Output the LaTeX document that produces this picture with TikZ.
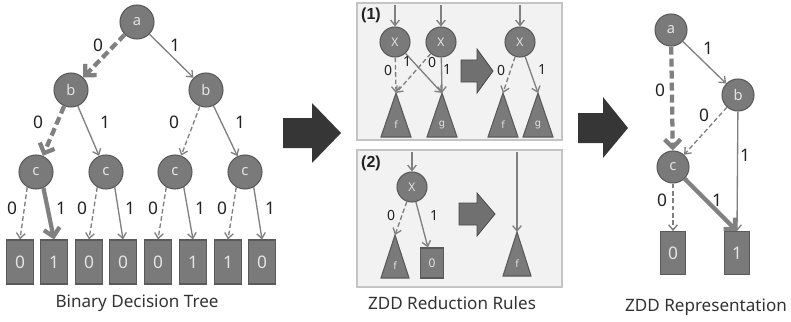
\documentclass[tikz,border=0pt]{standalone}
\usepackage{fontspec}
\setmainfont{Noto Sans}
\newfontfamily\rulefont{Liberation Sans}
\usetikzlibrary{arrows.meta,shadows}

\definecolor{nodefill}{HTML}{7A7A7A}
\definecolor{nodeline}{HTML}{5A5A5A}
\definecolor{nodetext}{HTML}{E4E4E4}
\definecolor{edgegray}{HTML}{808080}
\definecolor{labelink}{HTML}{222222}
\definecolor{captionink}{HTML}{333333}
\definecolor{paneltint}{HTML}{F2F2F2}
\definecolor{panelline}{HTML}{C4C4C4}
\definecolor{bigdark}{HTML}{363636}
\definecolor{midgray}{HTML}{707070}
\definecolor{midline}{HTML}{4A4A4A}

\tikzset{
  vert/.style={circle, draw=nodeline, fill=nodefill, line width=0.8pt, minimum size=25.5pt, inner sep=0pt, text=nodetext, font=\fontsize{11}{11}\selectfont},
  zvert/.style={vert, minimum size=24pt},
  xvert/.style={vert, minimum size=22.5pt, font=\fontsize{9}{9}\selectfont},
  leaf/.style={rectangle, draw=nodeline, fill=nodefill, line width=0.8pt, minimum width=20pt, minimum height=33pt, inner sep=0pt, text=nodetext, font=\fontsize{13}{13}\selectfont},
  zleaf/.style={leaf, minimum width=19pt, minimum height=32pt},
  sleaf/.style={leaf, minimum width=17pt, minimum height=22.5pt, font=\fontsize{9}{9}\selectfont},
  subtree/.style={fill=nodefill, draw=nodeline, line width=0.8pt},
  subtext/.style={text=nodetext, font=\fontsize{7.5}{7.5}\selectfont, inner sep=0pt},
  lo/.style={draw=edgegray, line width=1pt, dash pattern=on 3.5pt off 2pt, -{Straight Barb[length=4pt,width=6.5pt]}},
  hi/.style={draw=edgegray, line width=1pt, -{Straight Barb[length=4pt,width=6.5pt]}},
  lobold/.style={draw=edgegray, line width=3.2pt, dash pattern=on 6pt off 3pt, -{Straight Barb[length=6pt,width=12pt]}},
  hibold/.style={draw=edgegray, line width=3.2pt, -{Straight Barb[length=6pt,width=12pt]}},
  elabel/.style={text=labelink, font=\fontsize{13}{13}\selectfont, inner sep=0pt},
  plabel/.style={elabel, font=\fontsize{10.5}{10.5}\selectfont},
  rulelabel/.style={text=labelink, font=\rulefont\bfseries\fontsize{12}{12}\selectfont, inner sep=0pt},
  caption/.style={text=captionink, font=\fontsize{12.8}{12.8}\selectfont, inner sep=0pt},
  panel/.style={fill=paneltint, draw=panelline, line width=0.8pt, drop shadow={shadow xshift=0.8pt, shadow yshift=-0.8pt, fill=black, opacity=0.25}},
  bigarrow/.style={fill=bigdark},
  midarrow/.style={fill=midgray, draw=midline, line width=0.6pt}
}

\begin{document}
\begin{tikzpicture}[x=0.75pt, y=-0.75pt]
        \useasboundingbox (0,0) rectangle (791,321);

        % Binary decision tree (left)
        \node[vert] (a) at (137,22) {a};
        \node[vert] (bL) at (71,90) {b};
        \node[vert] (bR) at (206,90) {b};
        \node[vert] (c1) at (36,172) {c};
        \node[vert] (c2) at (106,172) {c};
        \node[vert] (c3) at (175,172) {c};
        \node[vert] (c4) at (245,172) {c};
        \node[leaf] (l1) at (20,262) {0};
        \node[leaf] (l2) at (54,262) {1};
        \node[leaf] (l3) at (89,262) {0};
        \node[leaf] (l4) at (123,262) {0};
        \node[leaf] (l5) at (158,262) {0};
        \node[leaf] (l6) at (193,262) {1};
        \node[leaf] (l7) at (228,262) {1};
        \node[leaf] (l8) at (262,262) {0};

        % Archi dell'albero
        \draw[lobold] (a) -- (bL);
        \draw[hi] (a) -- (bR);
        \draw[lobold] (bL) -- (c1);
        \draw[hi] (bL) -- (c2);
        \draw[lo] (bR) -- (c3);
        \draw[hi] (bR) -- (c4);
        \draw[lo] (c1.240) -- (l1.north);
        \draw[hibold] (c1.295) -- (l2.north);
        \draw[lo] (c2.240) -- (l3.north);
        \draw[hi] (c2.300) -- (l4.north);
        \draw[lo] (c3.240) -- (l5.north);
        \draw[hi] (c3.300) -- (l6.north);
        \draw[lo] (c4.240) -- (l7.north);
        \draw[hi] (c4.300) -- (l8.north);

        % Etichette 0/1
        \node[elabel] (ea0) at (98,45) {0};
        \node[elabel] (ea1) at (175,45) {1};
        \node[elabel] (eb0) at (38,122) {0};
        \node[elabel] (eb1) at (105,122) {1};
        \node[elabel] (ec0) at (174,122) {0};
        \node[elabel] (ec1) at (240,122) {1};
        \node[elabel] (ed0) at (12,208) {0};
        \node[elabel] (ed1) at (61,208) {1};
        \node[elabel] (ee0) at (82,208) {0};
        \node[elabel] (ee1) at (130,208) {1};
        \node[elabel] (ef0) at (153,208) {0};
        \node[elabel] (ef1) at (200,208) {1};
        \node[elabel] (eg0) at (222,208) {0};
        \node[elabel] (eg1) at (270,208) {1};

        \node[caption] (captree) at (137,303) {Binary Decision Tree};

        % Freccia verso regole
        \fill[bigarrow] (283,118) -- (312,118) -- (312,103) -- (341,133) -- (312,163) -- (312,148) -- (283,148) -- cycle;

        % Regola (1)
        \draw[panel] (357,3) rectangle (562,140);
        \node[rulelabel] (rule1) at (371,15) {(1)};
        \node[xvert] (x1) at (395,42) {X};
        \node[xvert] (x2) at (441,42) {X};
        \coordinate (in1) at (395,5);
        \coordinate (in2) at (441,5);
        \coordinate (fA) at (396,93);
        \coordinate (gA) at (442,93);
        \filldraw[subtree] (fA) -- ++(15,44) -- ++(-30,0) -- cycle;
        \filldraw[subtree] (gA) -- ++(15,44) -- ++(-30,0) -- cycle;
        \node[subtext] (fAt) at (396,125) {f};
        \node[subtext] (gAt) at (442,125) {g};
        \draw[hi] (in1) -- (x1);
        \draw[hi] (in2) -- (x2);
        \draw[lo] (x1) -- (fA);
        \draw[hi] (x1) -- (gA);
        \draw[lo] (x2) -- (fA);
        \draw[hi] (x2) -- (gA);
        \node[plabel] (p10) at (388,70) {0};
        \node[plabel] (p11) at (407,62) {1};
        \node[plabel] (p20) at (432,62) {0};
        \node[plabel] (p21) at (447,70) {1};

        \filldraw[midarrow] (461,60) -- (477,60) -- (477,49) -- (493,71) -- (477,93) -- (477,82) -- (461,82) -- cycle;

        \node[xvert] (x3) at (520,42) {X};
        \coordinate (in3) at (520,5);
        \coordinate (fB) at (503,93);
        \coordinate (gB) at (538,93);
        \filldraw[subtree] (fB) -- ++(15,44) -- ++(-30,0) -- cycle;
        \filldraw[subtree] (gB) -- ++(15,44) -- ++(-30,0) -- cycle;
        \node[subtext] (fBt) at (503,125) {f};
        \node[subtext] (gBt) at (538,125) {g};
        \draw[hi] (in3) -- (x3);
        \draw[lo] (x3) -- (fB);
        \draw[hi] (x3) -- (gB);
        \node[plabel] (p30) at (501,70) {0};
        \node[plabel] (p31) at (542,70) {1};

        % Regola (2)
        \draw[panel] (357,150) rectangle (562,287);
        \node[rulelabel] (rule2) at (371,163) {(2)};
        \node[xvert] (x4) at (412,187) {X};
        \coordinate (in4) at (412,152);
        \coordinate (fC) at (395,235);
        \filldraw[subtree] (fC) -- ++(14,43) -- ++(-28,0) -- cycle;
        \node[subtext] (fCt) at (395,266) {f};
        \node[sleaf] (zero) at (432,263) {0};
        \draw[hi] (in4) -- (x4);
        \draw[lo] (x4) -- (fC);
        \draw[hi] (x4) -- (zero);
        \node[plabel] (p40) at (391,215) {0};
        \node[plabel] (p41) at (434,215) {1};

        \filldraw[midarrow] (459,203) -- (477,203) -- (477,193) -- (495,214) -- (477,236) -- (477,225) -- (459,225) -- cycle;

        \coordinate (in5) at (517,152);
        \coordinate (fD) at (517,232);
        \filldraw[subtree] (fD) -- ++(14,44) -- ++(-28,0) -- cycle;
        \node[subtext] (fDt) at (517,264) {f};
        \draw[hi] (in5) -- (fD);

        \node[caption] (caprules) at (452,303) {ZDD Reduction Rules};

        % Freccia verso ZDD
        \fill[bigarrow] (578,113) -- (603,113) -- (603,97) -- (628,128) -- (603,158) -- (603,143) -- (578,143) -- cycle;

        % ZDD (destra)
        \node[zvert] (za) at (671,30) {a};
        \node[zvert] (zb) at (738,95) {b};
        \node[zvert] (zc) at (673,167) {c};
        \node[zleaf] (z0) at (673,253) {0};
        \node[zleaf] (z1) at (737,253) {1};
        \draw[lobold] (za) -- (zc);
        \draw[hi] (za) -- (zb);
        \draw[lo] (zb) -- (zc);
        \draw[hi] (zb) -- (z1.north);
        \draw[lo] (zc) -- (z0);
        \draw[hibold] (zc) -- (z1.north);
        \node[elabel] (za0) at (660,90) {0};
        \node[elabel] (za1) at (708,48) {1};
        \node[elabel] (zb0) at (704,115) {0};
        \node[elabel] (zb1) at (745,155) {1};
        \node[elabel] (zc0) at (662,200) {0};
        \node[elabel] (zc1) at (717,200) {1};

        \node[caption] (capzdd) at (706,307) {ZDD Representation};

    \end{tikzpicture}
\end{document}
